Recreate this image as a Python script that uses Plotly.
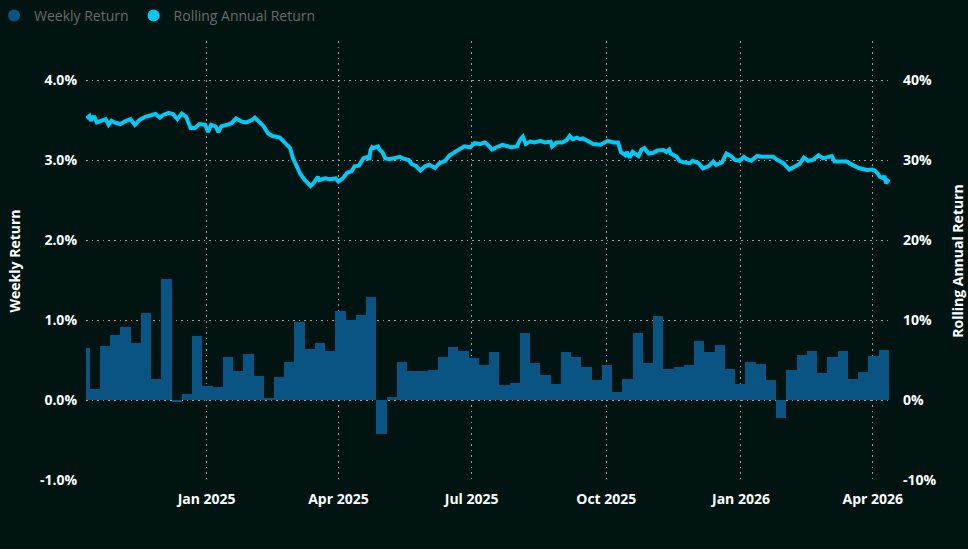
import pandas as pd
import plotly.graph_objects as go

# ---------------- data ----------------
bar_start = "2024-10-09 12:00"
weekly_return = [
    0.65, 0.14, 0.675, 0.81, 0.91, 0.71, 1.09, 0.26, 1.51, -0.03,
    0.07, 0.80, 0.18, 0.16, 0.54, 0.36, 0.58, 0.30, 0.03, 0.29,
    0.48, 0.975, 0.64, 0.71, 0.61, 1.11, 1.00, 1.06, 1.29, -0.42,
    0.04, 0.48, 0.36, 0.36, 0.375, 0.54, 0.66, 0.61, 0.525, 0.44,
    0.60, 0.19, 0.21, 0.84, 0.46, 0.31, 0.20, 0.60, 0.54, 0.41,
    0.25, 0.44, 0.10, 0.26, 0.84, 0.46, 1.05, 0.39, 0.41, 0.44,
    0.74, 0.60, 0.69, 0.39, 0.20, 0.475, 0.45, 0.25, -0.22, 0.375,
    0.56, 0.61, 0.34, 0.54, 0.61, 0.26, 0.35, 0.55, 0.625,
]
bar_dates = pd.date_range(bar_start, periods=len(weekly_return), freq="7D")

line_dates = [
    "2024-10-11", "2024-10-13", "2024-10-14", "2024-10-16", "2024-10-18", "2024-10-20",
    "2024-10-24", "2024-10-26", "2024-10-28", "2024-10-30", "2024-11-03", "2024-11-06",
    "2024-11-10", "2024-11-13", "2024-11-16", "2024-11-20", "2024-11-23", "2024-11-27",
    "2024-11-30", "2024-12-02", "2024-12-06", "2024-12-09", "2024-12-12", "2024-12-15",
    "2024-12-18", "2024-12-21", "2024-12-24", "2024-12-27", "2024-12-31", "2025-01-02",
    "2025-01-04", "2025-01-07", "2025-01-09", "2025-01-11", "2025-01-15", "2025-01-18",
    "2025-01-21", "2025-01-25", "2025-01-28", "2025-02-01", "2025-02-03", "2025-02-06",
    "2025-02-09", "2025-02-12", "2025-02-15", "2025-02-20", "2025-02-23", "2025-02-27",
    "2025-03-01", "2025-03-03", "2025-03-06", "2025-03-09", "2025-03-13", "2025-03-15",
    "2025-03-18", "2025-03-19", "2025-03-23", "2025-03-26", "2025-03-30", "2025-04-01",
    "2025-04-04", "2025-04-07", "2025-04-10", "2025-04-12", "2025-04-15", "2025-04-18",
    "2025-04-21", "2025-04-22", "2025-04-23", "2025-04-24", "2025-04-25", "2025-04-28",
    "2025-04-29", "2025-05-01", "2025-05-03", "2025-05-06", "2025-05-10", "2025-05-13",
    "2025-05-15", "2025-05-19", "2025-05-21", "2025-05-24", "2025-05-27", "2025-05-30",
    "2025-06-02", "2025-06-06", "2025-06-09", "2025-06-13", "2025-06-16", "2025-06-20",
    "2025-06-23", "2025-06-26", "2025-06-30", "2025-07-03", "2025-07-07", "2025-07-10",
    "2025-07-12", "2025-07-15", "2025-07-18", "2025-07-22", "2025-07-25", "2025-07-28",
    "2025-08-01", "2025-08-03", "2025-08-05", "2025-08-07", "2025-08-10", "2025-08-13",
    "2025-08-17", "2025-08-20", "2025-08-24", "2025-08-25", "2025-08-28", "2025-09-01",
    "2025-09-04", "2025-09-06", "2025-09-08", "2025-09-11", "2025-09-13", "2025-09-15",
    "2025-09-19", "2025-09-22", "2025-09-27", "2025-09-29", "2025-10-02", "2025-10-06",
    "2025-10-09", "2025-10-11", "2025-10-14", "2025-10-15", "2025-10-17", "2025-10-19",
    "2025-10-23", "2025-10-25", "2025-10-27", "2025-10-30", "2025-11-02", "2025-11-05",
    "2025-11-09", "2025-11-11", "2025-11-13", "2025-11-14", "2025-11-18", "2025-11-20",
    "2025-11-23", "2025-11-27", "2025-11-29", "2025-12-03", "2025-12-06", "2025-12-10",
    "2025-12-13", "2025-12-15", "2025-12-19", "2025-12-22", "2025-12-25", "2025-12-28",
    "2025-12-31", "2026-01-03", "2026-01-05", "2026-01-08", "2026-01-12", "2026-01-15",
    "2026-01-19", "2026-01-23", "2026-01-26", "2026-01-30", "2026-02-03", "2026-02-07",
    "2026-02-10", "2026-02-13", "2026-02-16", "2026-02-19", "2026-02-23", "2026-02-26",
    "2026-03-01", "2026-03-04", "2026-03-06", "2026-03-10", "2026-03-14", "2026-03-19",
    "2026-03-23", "2026-03-28", "2026-04-01", "2026-04-03", "2026-04-06", "2026-04-08",
    "2026-04-09", "2026-04-10", "2026-04-12",
]
rolling_annual_return = [
    35.2, 35.5, 34.9, 35.5, 34.7, 34.8,
    35.1, 34.4, 34.9, 34.7, 34.5, 34.8,
    35.1, 34.4, 35.0, 35.4, 35.5, 35.75,
    35.3, 35.6, 35.9, 35.75, 35.1, 35.8,
    35.4, 34.0, 34.0, 34.5, 34.4, 33.5,
    34.4, 34.2, 33.5, 34.2, 34.4, 34.6,
    35.2, 34.8, 34.7, 35.0, 35.3, 34.7,
    34.2, 33.3, 33.0, 32.8, 32.3, 31.5,
    30.2, 29.4, 28.25, 27.5, 26.75, 27.1,
    27.9, 27.5, 27.7, 27.6, 27.7, 27.3,
    27.7, 28.4, 28.6, 29.2, 29.3, 30.2,
    30.4, 30.0, 31.3, 31.6, 31.5, 31.7,
    31.3, 31.0, 30.2, 30.1, 30.2, 30.4,
    30.2, 30.0, 29.5, 29.25, 28.7, 29.2,
    29.4, 29.0, 29.6, 29.9, 30.6, 31.0,
    31.3, 31.7, 31.6, 32.1, 32.0, 32.2,
    31.9, 31.3, 31.6, 31.9, 31.75, 31.6,
    31.7, 32.5, 32.9, 32.0, 32.3, 32.2,
    32.4, 32.2, 32.3, 31.7, 32.2, 32.2,
    32.5, 33.0, 32.6, 32.8, 32.6, 32.7,
    32.3, 32.0, 31.9, 32.1, 32.4, 32.2,
    32.2, 31.0, 30.6, 31.0, 30.3, 31.0,
    30.5, 31.3, 31.5, 30.8, 30.9, 31.2,
    31.25, 31.0, 31.3, 30.8, 30.4, 29.9,
    29.7, 29.6, 29.9, 29.6, 28.96, 29.25,
    29.8, 29.4, 29.7, 30.8, 30.5, 30.0,
    29.9, 30.4, 30.1, 29.9, 30.5, 30.4,
    30.4, 30.4, 30.0, 29.6, 28.8, 29.2,
    29.5, 30.3, 29.9, 30.0, 30.6, 30.2,
    30.4, 30.5, 29.8, 29.8, 29.8, 29.3,
    28.96, 28.75, 28.8, 28.6, 27.9, 27.75,
    28.0, 27.1, 27.6,
]

x_tick_vals = ["2025-01-01", "2025-04-01", "2025-07-01", "2025-10-01", "2026-01-01", "2026-04-01"]
x_tick_text = ["Jan 2025", "Apr 2025", "Jul 2025", "Oct 2025", "Jan 2026", "Apr 2026"]
y_tick_vals = [-1, 0, 1, 2, 3, 4]
y_tick_text = ["-1.0%", "0.0%", "1.0%", "2.0%", "3.0%", "4.0%"]
y2_tick_vals = [-10, 0, 10, 20, 30, 40]
y2_tick_text = ["-10%", "0%", "10%", "20%", "30%", "40%"]

# ---------------- style ----------------
BG = "#011412"
BAR = "#0a5483"
LINE = "#00c9f4"
GRID = "rgba(175,185,182,0.85)"
DASH = "1.6px,4px"
FONT = "Segoe UI, Open Sans, sans-serif"
TICKFONT = dict(color="white", size=14, family=FONT, weight=700)

fig = go.Figure()
fig.add_trace(go.Bar(x=bar_dates, y=weekly_return, name="Weekly Return",
                     marker=dict(color=BAR, line=dict(width=0)), showlegend=False))
fig.add_trace(go.Scatter(x=line_dates, y=rolling_annual_return, name="Rolling Annual Return",
                         yaxis="y2", mode="lines", line=dict(color=LINE, width=4),
                         showlegend=False))
# legend entries (circle symbols)
fig.add_trace(go.Scatter(x=[None], y=[None], mode="markers", name="Weekly Return",
                         marker=dict(color=BAR, size=12), showlegend=True))
fig.add_trace(go.Scatter(x=[None], y=[None], mode="markers", name="Rolling Annual Return",
                         yaxis="y2", marker=dict(color=LINE, size=12), showlegend=True))

fig.update_layout(
    width=968, height=549,
    paper_bgcolor=BG, plot_bgcolor=BG,
    margin=dict(l=86, r=78, t=41, b=68, autoexpand=False),
    bargap=0,
    font=dict(family=FONT, color="white", size=14),
    legend=dict(orientation="h", xref="paper", yref="container", x=-0.1144, y=1.0,
                xanchor="left", yanchor="top", itemwidth=30,
                font=dict(color="#6a6a6a", size=14, family=FONT),
                bgcolor="rgba(0,0,0,0)", tracegroupgap=0),
    xaxis=dict(type="date", range=["2024-10-10 14:00", "2026-04-12 19:00"],
               tickvals=x_tick_vals, ticktext=x_tick_text, automargin=False,
               showgrid=True, gridcolor=GRID, griddash=DASH, gridwidth=1,
               zeroline=False, showline=False, ticks="", ticklabelstandoff=8,
               tickfont=TICKFONT),
    yaxis=dict(range=[-1.0125, 4.4875], tickvals=y_tick_vals, ticktext=y_tick_text,
               automargin=False,
               showgrid=True, gridcolor=GRID, griddash=DASH, gridwidth=1,
               zeroline=False, showline=False, ticks="", ticklabelstandoff=8,
               tickfont=TICKFONT,
               title=dict(text="Weekly Return", standoff=15,
                          font=dict(color="white", size=14, family=FONT, weight=700))),
    yaxis2=dict(range=[-10.125, 44.875], overlaying="y", side="right", automargin=False,
                tickvals=y2_tick_vals, ticktext=y2_tick_text,
                showgrid=False, zeroline=False, showline=False, ticks="", ticklabelstandoff=12,
                tickfont=TICKFONT,
                title=dict(text="Rolling Annual Return", standoff=17,
                           font=dict(color="white", size=14, family=FONT, weight=700))),
)

fig.write_html("out.html", config={"displayModeBar": False},
               post_script="document.body.style.margin='0';document.body.style.background='#011412';")
